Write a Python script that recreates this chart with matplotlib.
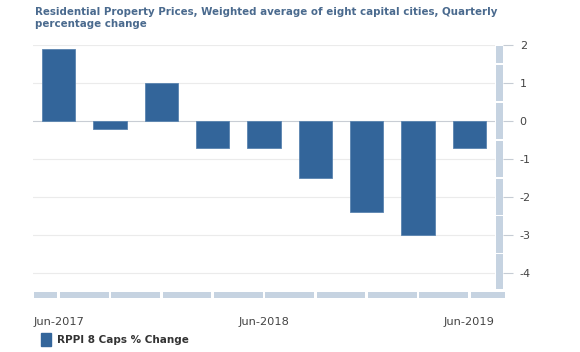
import matplotlib
matplotlib.use("Agg")
import matplotlib.pyplot as plt
from matplotlib.patches import Rectangle
import numpy as np

# quarterly % change, RPPI weighted average of eight capital cities
quarters = ['Jun-2017', 'Sep-2017', 'Dec-2017', 'Mar-2018', 'Jun-2018',
            'Sep-2018', 'Dec-2018', 'Mar-2019', 'Jun-2019']
pct_change = [1.9, -0.2, 1.0, -0.7, -0.7, -1.5, -2.4, -3.0, -0.7]
y_ticks = [2, 1, 0, -1, -2, -3, -4]
shown_labels = ['Jun-2017', 'Jun-2018', 'Jun-2019']

bar_col = '#33659a'
strip_col = '#c6d3e1'
title_col = '#4a6a8e'

W, H = 580, 352
fig = plt.figure(figsize=(W / 100, H / 100), dpi=100)
plt.rcParams['font.family'] = ['DejaVu Sans']

def px_box(x0, y0, x1, y1):
    # pixel box (top-left origin) -> figure fraction
    return [x0 / W, 1 - y1 / H, (x1 - x0) / W, (y1 - y0) / H]

ylo, yhi = -4.45, 2.0
ax = fig.add_axes(px_box(33, 45, 495, 290))
x = np.arange(len(quarters))
ax.bar(x, pct_change, width=0.65, color=bar_col, edgecolor='#5a84b0', linewidth=0.6, zorder=3)
ax.set_xlim(-0.5, len(quarters) - 0.5)
ax.set_ylim(ylo, yhi)
for v in y_ticks:
    ax.axhline(v, color='#c8cdd4' if v == 0 else '#ebebeb', lw=0.8, zorder=1)
ax.set_xticks([])
ax.set_yticks([])
for s in ax.spines.values():
    s.set_visible(False)

# vertical strip on the right with the value axis
axr = fig.add_axes(px_box(496, 45, 503, 290))
edges = [ylo] + [v + 0.5 for v in sorted(y_ticks)[:-1]] + [yhi]
for a, b in zip(edges[:-1], edges[1:]):
    axr.bar(0, b - a - 0.03, bottom=a + 0.015, width=1, color=strip_col)
axr.set_xlim(-0.5, 0.5)
axr.set_ylim(ylo, yhi)
axr.set_xticks([])
axr.yaxis.tick_right()
axr.set_yticks(y_ticks)
axr.set_yticklabels([str(v) for v in y_ticks])
axr.tick_params(axis='y', length=7, color='#c6ccd4', labelsize=8,
                labelcolor='#444444', pad=5)
for s in axr.spines.values():
    s.set_visible(False)

# segmented strip along the bottom
unit = (495 - 33) / len(quarters)
axb = fig.add_axes(px_box(33, 292, 506, 298))
xmax = -0.5 + (506 - 33) / unit
bounds = [-0.5] + list(range(len(quarters))) + [xmax]
for a, b in zip(bounds[:-1], bounds[1:]):
    axb.bar((a + b) / 2, 1, width=b - a - 0.05, color=strip_col)
axb.set_xlim(-0.5, xmax)
axb.set_ylim(0, 1)
axb.set_yticks([])
axb.set_xticks([quarters.index(q) for q in shown_labels])
axb.set_xticklabels(shown_labels)
axb.tick_params(axis='x', length=0, pad=14, labelsize=8.2, labelcolor='#444444')
for s in axb.spines.values():
    s.set_visible(False)

# title
fig.text(35 / W, 1 - 7 / H,
         'Residential Property Prices, Weighted average of eight capital cities, Quarterly\npercentage change',
         ha='left', va='top', fontsize=7.4, fontweight='bold', color=title_col, linespacing=1.25)

# legend
fig.patches.append(Rectangle((41 / W, 1 - 346 / H), 10 / W, 13 / H,
                             transform=fig.transFigure, color=bar_col))
fig.text(57 / W, 1 - 340 / H, 'RPPI 8 Caps % Change', ha='left', va='center',
         fontsize=7.5, fontweight='bold', color='#333333')

fig.savefig('out.png', dpi=100)
